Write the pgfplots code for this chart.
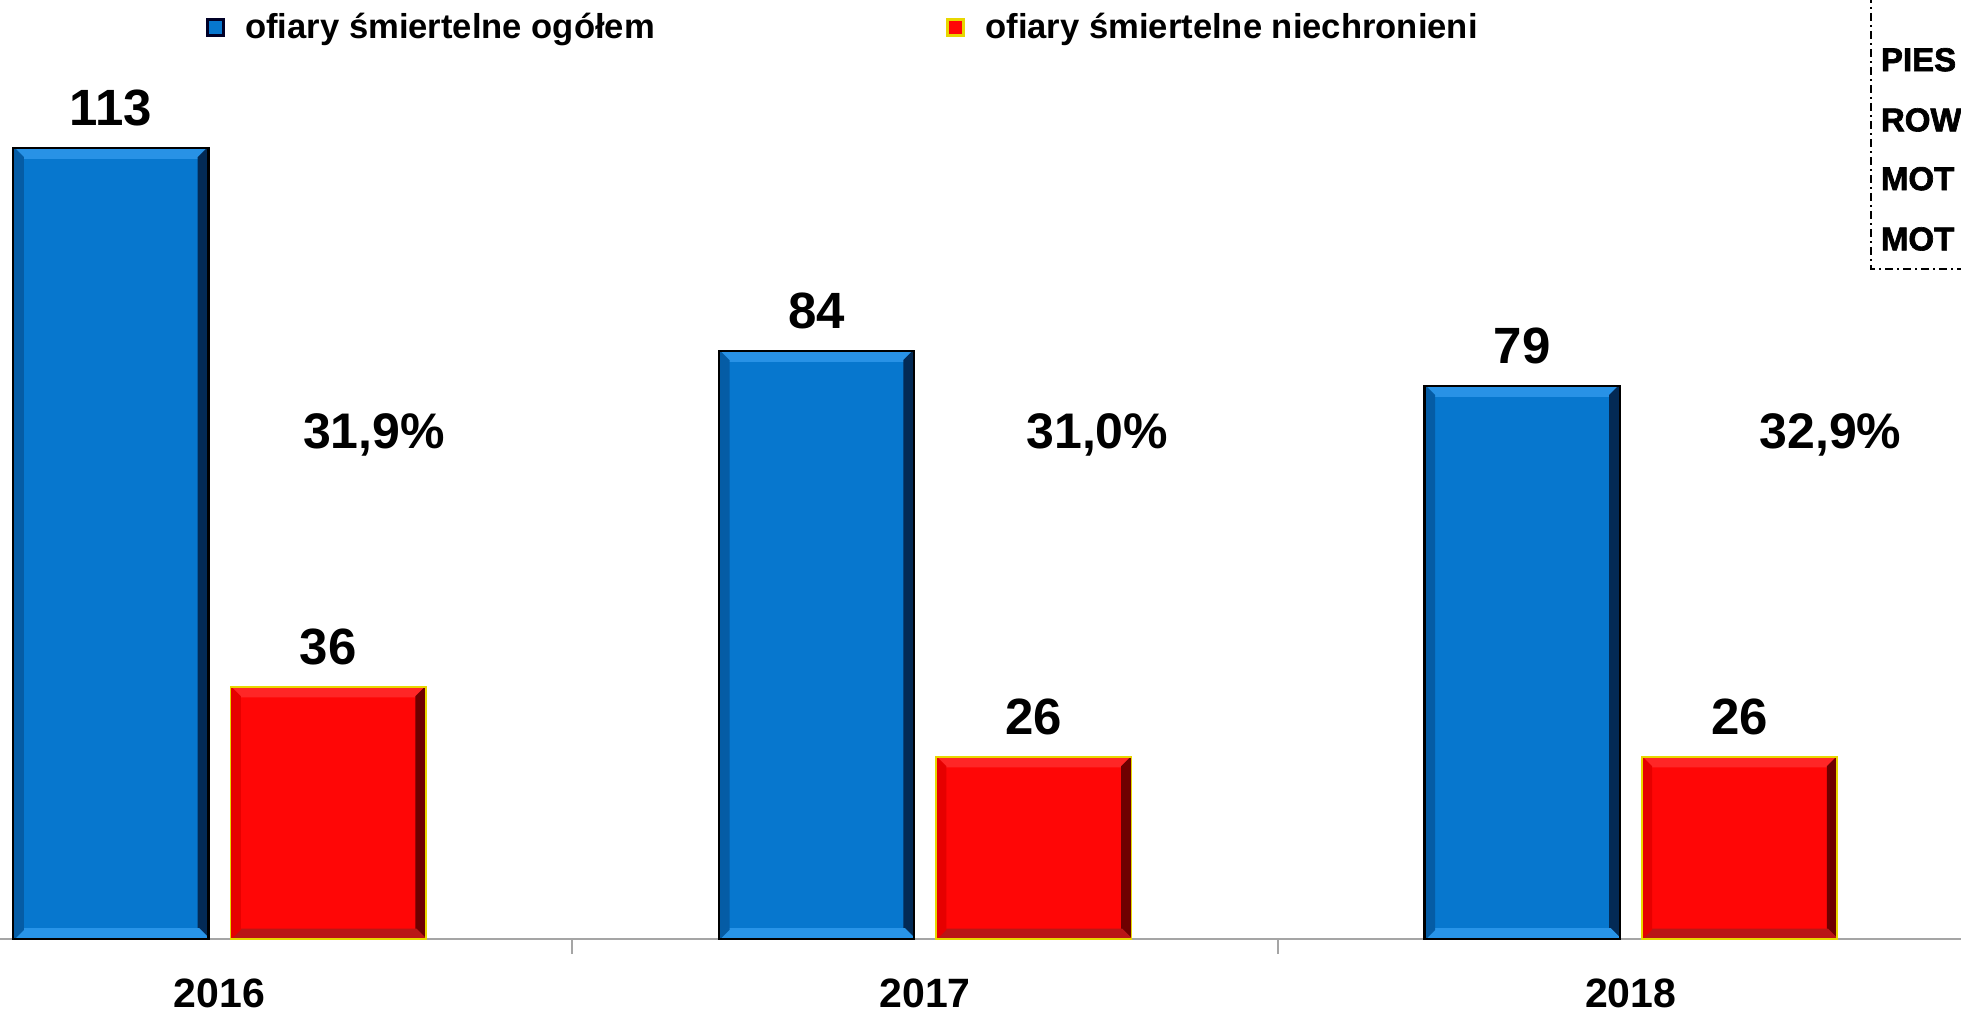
\documentclass[border=0pt]{standalone}
\usepackage{fontspec}
\setmainfont{Liberation Sans}
\newfontfamily\heavyfont{Liberation Sans}[FakeBold=2]
\usepackage{pgfplots}
\pgfplotsset{compat=1.18}
\usetikzlibrary{calc}

% bar colours
\definecolor{barblue}{RGB}{7,119,206}
\definecolor{bluetop}{RGB}{40,146,230}
\definecolor{blueleft}{RGB}{5,92,165}
\definecolor{blueright}{RGB}{3,42,85}
\definecolor{bluebottom}{RGB}{40,148,232}
\definecolor{barred}{RGB}{255,6,6}
\definecolor{redtop}{RGB}{255,38,38}
\definecolor{redleft}{RGB}{230,0,0}
\definecolor{redright}{RGB}{110,0,0}
\definecolor{redbottom}{RGB}{185,22,22}
\definecolor{rimyellow}{RGB}{232,215,0}
\definecolor{axisgray}{RGB}{165,165,165}

\newcommand{\bv}{4.8pt}
\newif\ifinbevel

% bevelled frame drawn inside a bar
\tikzset{
  bevel/.style n args={4}{path picture={%
    \ifinbevel\else
    \inbeveltrue
    \coordinate (bnw) at (path picture bounding box.north west);
    \coordinate (bne) at (path picture bounding box.north east);
    \coordinate (bsw) at (path picture bounding box.south west);
    \coordinate (bse) at (path picture bounding box.south east);
    \fill[#1] (bnw) -- (bne) -- ($(bne)+(-\bv,-\bv)$) -- ($(bnw)+(\bv,-\bv)$) -- cycle;
    \fill[#2] (bne) -- (bse) -- ($(bse)+(-\bv,\bv)$) -- ($(bne)+(-\bv,-\bv)$) -- cycle;
    \fill[#3] (bsw) -- (bse) -- ($(bse)+(-\bv,\bv)$) -- ($(bsw)+(\bv,\bv)$) -- cycle;
    \fill[#4] (bnw) -- (bsw) -- ($(bsw)+(\bv,\bv)$) -- ($(bnw)+(\bv,-\bv)$) -- cycle;
    \fi
  }},
}

\begin{document}
\begin{tikzpicture}
\begin{axis}[
  scale only axis,
  width=980.5pt, height=469.5pt,
  xmin=-0.311, xmax=2.468,
  ymin=0, ymax=134.14,
  enlargelimits=false,
  clip=false,
  axis x line=bottom,
  axis y line=none,
  axis line style={draw=axisgray, line width=1pt, -},
  xtick={0,1,2},
  xticklabels={2016,2017,2018},
  major tick length=0pt,
  minor xtick={0.5,1.5},
  minor tick length=7.5pt,
  tick align=outside,
  minor x tick style={draw=axisgray, line width=0.8pt},
  xticklabel style={anchor=north, inner sep=0pt, yshift=-19.5pt,
    font=\fontsize{20.5}{24}\selectfont\bfseries},
  /pgf/number format/assume math mode=true,
  legend columns=2,
  legend style={at={(rel axis cs:0.105,0.9712)}, anchor=west,
    draw=none, fill=none, inner sep=0pt,
    font=\fontsize{17.3}{20}\selectfont\bfseries,
    cells={anchor=west, inner sep=0pt},
    /tikz/every odd column/.append style={column sep=8pt},
    /tikz/every even column/.append style={column sep=143.8pt}},
  bluebar/.style={ybar, bar width=0.277, bar shift=0pt, forget plot,
    fill=barblue, draw=black, line width=1.2pt,
    bevel={bluetop}{blueright}{bluebottom}{blueleft}},
  redbar/.style={ybar, bar width=0.277, bar shift=0pt, forget plot,
    fill=barred, draw=rimyellow, line width=0.8pt,
    bevel={redtop}{redright}{redbottom}{redleft}},
  barlabel/.style={only marks, mark=none, forget plot,
    nodes near coords,
    nodes near coords style={anchor=south, inner sep=0pt, yshift=10.75pt,
      font=\fontsize{25.5}{30}\selectfont\bfseries, text=black}},
]
% total fatalities (left bar of each year)
\addplot[bluebar] coordinates {(-0.154,113)};
\addplot[bluebar] coordinates {(0.846,84)};
\addplot[bluebar] coordinates {(1.846,79)};
% unprotected road users (right bar of each year)
\addplot[redbar] coordinates {(0.154,36)};
\addplot[redbar] coordinates {(1.154,26)};
\addplot[redbar] coordinates {(2.154,26)};

% value labels above the bars
\addplot[barlabel] coordinates {(-0.154,113) (0.846,84) (1.846,79)};
\addplot[barlabel] coordinates {(0.154,36) (1.154,26) (2.154,26)};

% legend
\addlegendimage{legend image code/.code={
  \draw[fill=barblue, draw=black!85!blue, line width=1.5pt] (0pt,-4pt) rectangle (8pt,4pt);}}
\addlegendentry{ofiary śmiertelne ogółem}
\addlegendimage{legend image code/.code={
  \draw[fill=barred, draw=rimyellow, line width=1.5pt] (0pt,-4pt) rectangle (8pt,4pt);}}
\addlegendentry{ofiary śmiertelne niechronieni}

% share of unprotected road users in all fatalities
\node[font=\fontsize{25}{30}\selectfont\bfseries] at (axis cs:0.219,72) {31,9\%};
\node[font=\fontsize{25}{30}\selectfont\bfseries] at (axis cs:1.244,72) {31,0\%};
\node[font=\fontsize{25}{30}\selectfont\bfseries] at (axis cs:2.283,72) {32,9\%};

% road user categories panel
\draw[line width=1.1pt, dash pattern=on 4pt off 2pt on 1pt off 2pt]
  (axis cs:2.341,140) -- (axis cs:2.341,95.7) -- (axis cs:2.6,95.7);
\begin{scope}[every node/.style={anchor=west, inner sep=0pt,
    font=\fontsize{16.5}{19}\heavyfont\bfseries}]
  \node at (axis cs:2.354,125.6) {PIES};
  \node at (axis cs:2.354,117.0) {ROW};
  \node at (axis cs:2.354,108.6) {MOT};
  \node at (axis cs:2.354,100.0) {MOT};
\end{scope}
\end{axis}
\pgfresetboundingbox
\path[use as bounding box] ($(current axis.south west)+(0,-36.5pt)$) rectangle (current axis.north east);
\end{tikzpicture}
\end{document}
